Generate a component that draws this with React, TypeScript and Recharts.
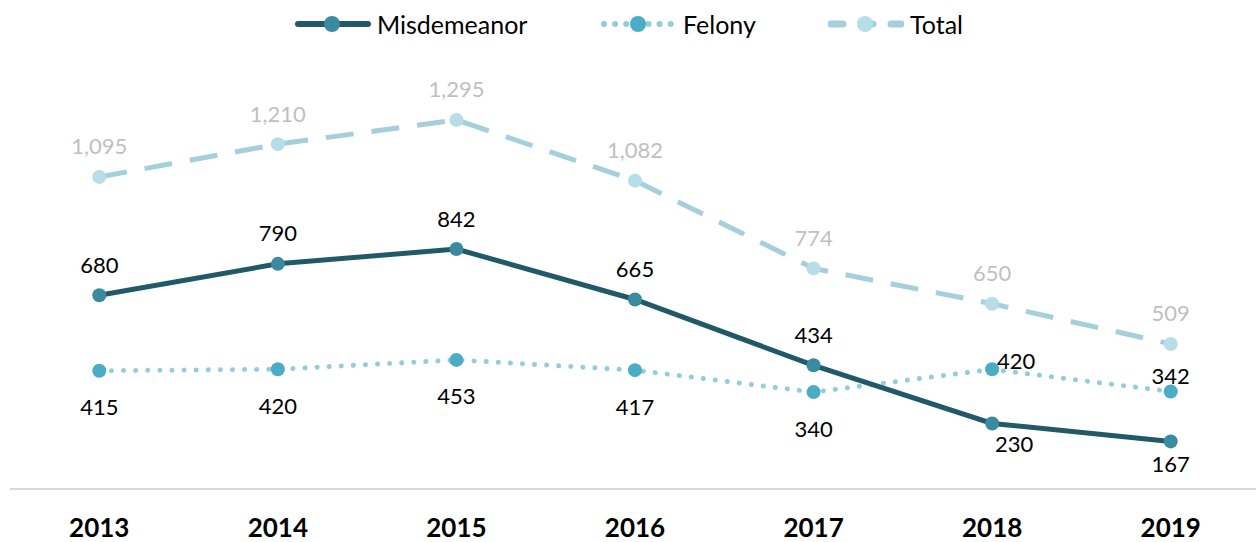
import { LineChart, Line, XAxis, YAxis, LabelList } from 'recharts'

const years = ['2013', '2014', '2015', '2016', '2017', '2018', '2019']
const misdemeanor = [680, 790, 842, 665, 434, 230, 167]
const felony = [415, 420, 453, 417, 340, 420, 342]
const total = [1095, 1210, 1295, 1082, 774, 650, 509]

const data = years.map((year, i) => ({
  year,
  misdemeanor: misdemeanor[i],
  felony: felony[i],
  total: total[i],
}))

const FONT = 'Lato, "Open Sans", sans-serif'

// label placement per point: [dx, dy]
const misPlace = [[0, -31], [0, -31], [0, -31], [0, -31], [0, -31], [22, 20], [0, 22]]
const felPlace = [[0, 36], [0, 36], [0, 36], [0, 36], [0, 36], [24, -9], [0, -16]]
const totPlace = [[0, -31], [0, -31], [0, -31], [0, -31], [0, -31], [0, -31], [0, -31]]

const makeLabel = (place: number[][], color: string) => (props: any) => {
  const { x, y, value, index } = props
  const [dx, dy] = place[index]
  return (
    <text x={x + dx} y={y + dy} textAnchor="middle" dominantBaseline="central"
      fill={color} fontSize={22} fontFamily={FONT}>
      {value.toLocaleString('en-US')}
    </text>
  )
}

function LegendItem({ label, stroke, dash, fill, left, sw }: any) {
  return (
    <div style={{ position: 'absolute', left, top: 0, display: 'flex', alignItems: 'center' }}>
      <svg width={76} height={24} style={{ marginRight: 6 }}>
        <line x1={3} y1={12} x2={73} y2={12} stroke={stroke} strokeWidth={sw}
          strokeDasharray={dash} strokeLinecap="round" />
        <circle cx={37} cy={12} r={8} fill={fill} />
      </svg>
      <span style={{ fontSize: 25, fontFamily: FONT, color: '#000', lineHeight: '24px' }}>{label}</span>
    </div>
  )
}

export default function App() {
  return (
    <div style={{ position: 'absolute', left: 0, top: 0, width: 1256, height: 542, overflow: 'hidden', background: '#fff' }}>
      <div style={{ position: 'absolute', top: 12, left: 0, width: 1256, height: 26 }}>
        <LegendItem label="Misdemeanor" stroke="#215968" fill="#3a8ba0" left={295} sw={6} />
        <LegendItem label="Felony" stroke="#92cddc" dash="0.1 11" fill="#4bacc6" left={601} sw={6} />
        <LegendItem label="Total" stroke="#a5cfdc" dash="12 18" fill="#b7dde8" left={828} sw={7} />
      </div>
      <LineChart width={1260} height={542} data={data} margin={{ top: 90, right: 0, bottom: 0, left: 10 }}>
        <XAxis dataKey="year" scale="band" height={53} tickLine={false} axisLine={{ stroke: '#d9d9d9', strokeWidth: 2 }}
          tick={{ fontSize: 26, fontWeight: 700, fill: '#000', fontFamily: FONT }} tickMargin={24} interval={0} />
        <YAxis hide domain={[0, 1400]} />
        <Line dataKey="total" stroke="#a5cfdc" strokeWidth={5} strokeDasharray="28 18"
          dot={{ r: 7, fill: '#b7dde8', stroke: 'none' }} isAnimationActive={false}>
          <LabelList dataKey="total" content={makeLabel(totPlace, '#bfbfbf')} />
        </Line>
        <Line dataKey="felony" stroke="#92cddc" strokeWidth={5} strokeDasharray="0.1 12" strokeLinecap="round"
          dot={{ r: 7, fill: '#4bacc6', stroke: 'none' }} isAnimationActive={false}>
          <LabelList dataKey="felony" content={makeLabel(felPlace, '#000')} />
        </Line>
        <Line dataKey="misdemeanor" stroke="#215968" strokeWidth={5}
          dot={{ r: 7, fill: '#3a8ba0', stroke: 'none' }} isAnimationActive={false}>
          <LabelList dataKey="misdemeanor" content={makeLabel(misPlace, '#000')} />
        </Line>
      </LineChart>
    </div>
  )
}
